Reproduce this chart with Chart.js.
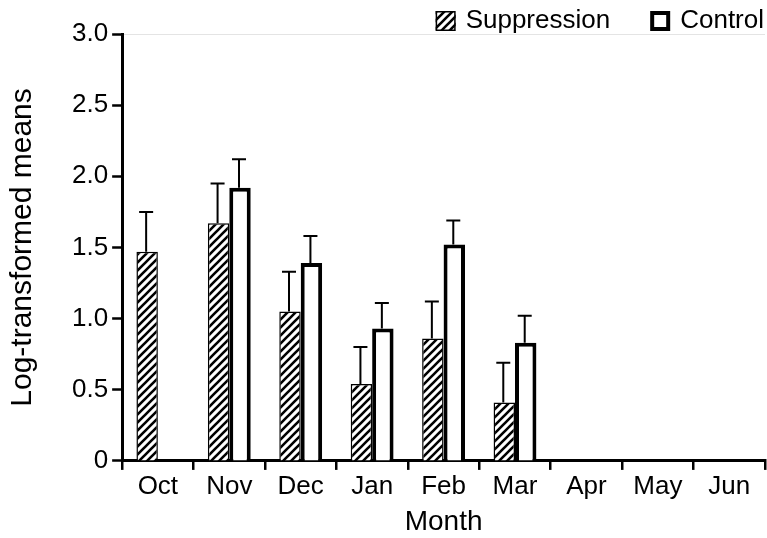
<!DOCTYPE html>
<html>
<head>
<meta charset="utf-8">
<script src="https://cdn.jsdelivr.net/npm/chart.js@4"></script>
<style>
  html, body { margin: 0; padding: 0; background: #fff; }
  #wrap { width: 767px; height: 538px; }
</style>
</head>
<body>
<div id="wrap"><canvas id="chart" width="767" height="538"></canvas></div>
<script>
const months = ["Oct", "Nov", "Dec", "Jan", "Feb", "Mar", "Apr", "May", "Jun"];
const suppression = [1.47, 1.67, 1.05, 0.54, 0.86, 0.41, null, null, null];
const suppressionErr = [0.28, 0.28, 0.28, 0.26, 0.26, 0.28, null, null, null];
const control = [null, 1.92, 1.39, 0.93, 1.52, 0.83, null, null, null];
const controlErr = [null, 0.20, 0.19, 0.18, 0.17, 0.19, null, null, null];
const yTicks = [0, 0.5, 1.0, 1.5, 2.0, 2.5, 3.0];

const FONT = "'Liberation Sans', Arial, sans-serif";

// diagonal hatch fill
function hatch() {
  const c = document.createElement("canvas");
  c.width = 8; c.height = 8;
  const g = c.getContext("2d");
  g.fillStyle = "#fff";
  g.fillRect(0, 0, 8, 8);
  g.strokeStyle = "#000";
  g.lineWidth = 2.6;
  g.beginPath();
  g.moveTo(-2, 10); g.lineTo(10, -2);
  g.moveTo(-2, 2); g.lineTo(2, -2);
  g.moveTo(6, 10); g.lineTo(10, 6);
  g.stroke();
  return g.createPattern(c, "repeat");
}

const errorBars = {
  id: "errorBars",
  afterDatasetsDraw(chart) {
    const ctx = chart.ctx;
    const y = chart.scales.y;
    chart.data.datasets.forEach((ds, i) => {
      const meta = chart.getDatasetMeta(i);
      meta.data.forEach((bar, j) => {
        const v = ds.data[j], e = ds.errs[j];
        if (v == null || e == null) return;
        const x = bar.x - 1;
        const top = y.getPixelForValue(v + e);
        ctx.save();
        ctx.strokeStyle = "#000";
        ctx.lineWidth = 2;
        ctx.beginPath();
        ctx.moveTo(x, bar.y);
        ctx.lineTo(x, top);
        ctx.moveTo(x - 7, top);
        ctx.lineTo(x + 7, top);
        ctx.stroke();
        ctx.restore();
      });
    });
  }
};

// legend drawn in the top right corner, right to left
const cornerLegend = {
  id: "cornerLegend",
  afterDraw(chart) {
    const ctx = chart.ctx;
    ctx.save();
    ctx.font = "26px " + FONT;
    ctx.textBaseline = "middle";
    ctx.fillStyle = "#000";
    let right = chart.width - 3;
    const items = chart.data.datasets.slice().reverse();
    items.forEach(ds => {
      const w = ctx.measureText(ds.label).width;
      const tx = right - w;
      ctx.fillText(ds.label, tx, 21);
      const bx = tx - 30;
      const bw = ds.borderWidth;
      ctx.fillStyle = ds.backgroundColor;
      ctx.fillRect(bx, 11, 20, 20);
      ctx.strokeStyle = "#000";
      ctx.lineWidth = bw;
      ctx.strokeRect(bx + bw / 2, 11 + bw / 2, 20 - bw, 20 - bw);
      ctx.fillStyle = "#000";
      right = bx - 40;
    });
    ctx.restore();
  }
};

Chart.defaults.font.family = FONT;
Chart.defaults.color = "#000";

new Chart(document.getElementById("chart"), {
  type: "bar",
  data: {
    labels: months,
    datasets: [
      {
        label: "Suppression",
        data: suppression,
        errs: suppressionErr,
        backgroundColor: hatch(),
        borderColor: "#000",
        borderWidth: 1.5
      },
      {
        label: "Control",
        data: control,
        errs: controlErr,
        backgroundColor: "#fff",
        borderColor: "#000",
        borderWidth: 4
      }
    ]
  },
  options: {
    responsive: false,
    animation: false,
    categoryPercentage: 0.6,
    barPercentage: 1.0,
    layout: { padding: { left: 5, right: 2, top: 34, bottom: 0 } },
    plugins: {
      tooltip: { enabled: false },
      legend: { display: false }
    },
    scales: {
      x: {
        offset: true,
        grid: {
          offset: true,
          drawOnChartArea: false,
          color: "#000",
          lineWidth: 2.5,
          tickLength: 9
        },
        border: { color: "#000", width: 3 },
        ticks: { font: { size: 26, lineHeight: 1.15 }, padding: 2 },
        title: { display: true, text: "Month", font: { size: 28, lineHeight: 1.15 }, padding: { top: 2, bottom: 0 } }
      },
      y: {
        min: 0,
        max: 3,
        afterBuildTicks(axis) { axis.ticks = yTicks.map(v => ({ value: v })); },
        grid: {
          color: ctx => ctx.tick && ctx.tick.value === 3 ? "#e4e4e4" : "rgba(0,0,0,0)",
          tickColor: "#000",
          lineWidth: 1,
          tickWidth: 2.5,
          tickLength: 10
        },
        border: { color: "#000", width: 3 },
        ticks: {
          font: { size: 26 },
          padding: 4,
          callback: v => v === 0 ? "0" : v.toFixed(1)
        },
        title: { display: true, text: "Log-transformed means", font: { size: 30, lineHeight: 1.2 }, padding: { top: 0, bottom: 27 } }
      }
    }
  },
  plugins: [errorBars, cornerLegend]
});
</script>
</body>
</html>
